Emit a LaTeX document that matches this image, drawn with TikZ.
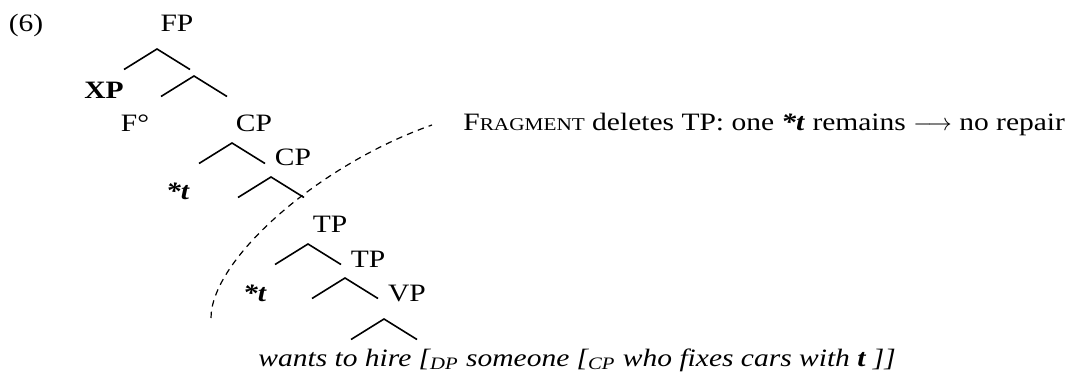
\documentclass[tikz,border=0pt]{standalone}
\usepackage{fontspec}
\setmainfont{Liberation Serif}[FakeStretch=1.18]
\usepackage{tikz}

\begin{document}
\begin{tikzpicture}[x=0.5pt,y=-0.5pt,
    every node/.style={inner sep=0pt,anchor=base,font=\fontsize{12.5}{15}\selectfont},
    branch/.style={line width=0.8pt},
    cutline/.style={line width=0.6pt,dash pattern=on 3.2pt off 2.6pt}]
        \useasboundingbox (0,0) rectangle (1068,373);
        \node (num) at (26,32) {(6)};
        \node (fp) at (177,32) {FP};
        \node (xp) at (104,99) {\textbf{XP}};
        \node (fzero) at (135,132) {F°};
        \node (cp) at (254,132) {CP};
        \node (cpbar) at (293,166) {CP};
        \node (tcp) at (178,200) {\textbf{\textit{*t}}};
        \node (tp) at (330,233) {TP};
        \node (tpbar) at (368,267) {TP};
        \node (ttp) at (255,301) {\textbf{\textit{*t}}};
        \node (vp) at (407,301) {VP};
        \node[anchor=base west] (words) at (258,366)
          {\itshape wants to hire [\textsubscript{DP} someone [\textsubscript{CP} who fixes cars with \textbf{t} ]]};
        \node[anchor=base west] (note) at (463,131)
          {F{\fontsize{9}{11}\selectfont RAGMENT} deletes TP: one \textbf{\textit{*t}} remains $\longrightarrow$ no repair};

        \foreach \n/\x/\y in {fp/157/49, fbar/194/76, cp/232/143, cpbar/271/177,
            tp/308/244, tpbar/345/278, vp/384/319} {
          \coordinate (\n-top) at (\x,\y);
          \coordinate (\n-l) at ([shift={(-33,20.5)}]\n-top);
          \coordinate (\n-r) at ([shift={(33,20.5)}]\n-top);
          \draw[branch] (\n-l) -- (\n-top) -- (\n-r);
        }

        \coordinate (cut-bot) at (211,318);
        \coordinate (cut-top) at (432,125);
        \draw[cutline] (cut-bot) .. controls (211,260) and (318,165) .. (cut-top);
  \end{tikzpicture}
\end{document}
